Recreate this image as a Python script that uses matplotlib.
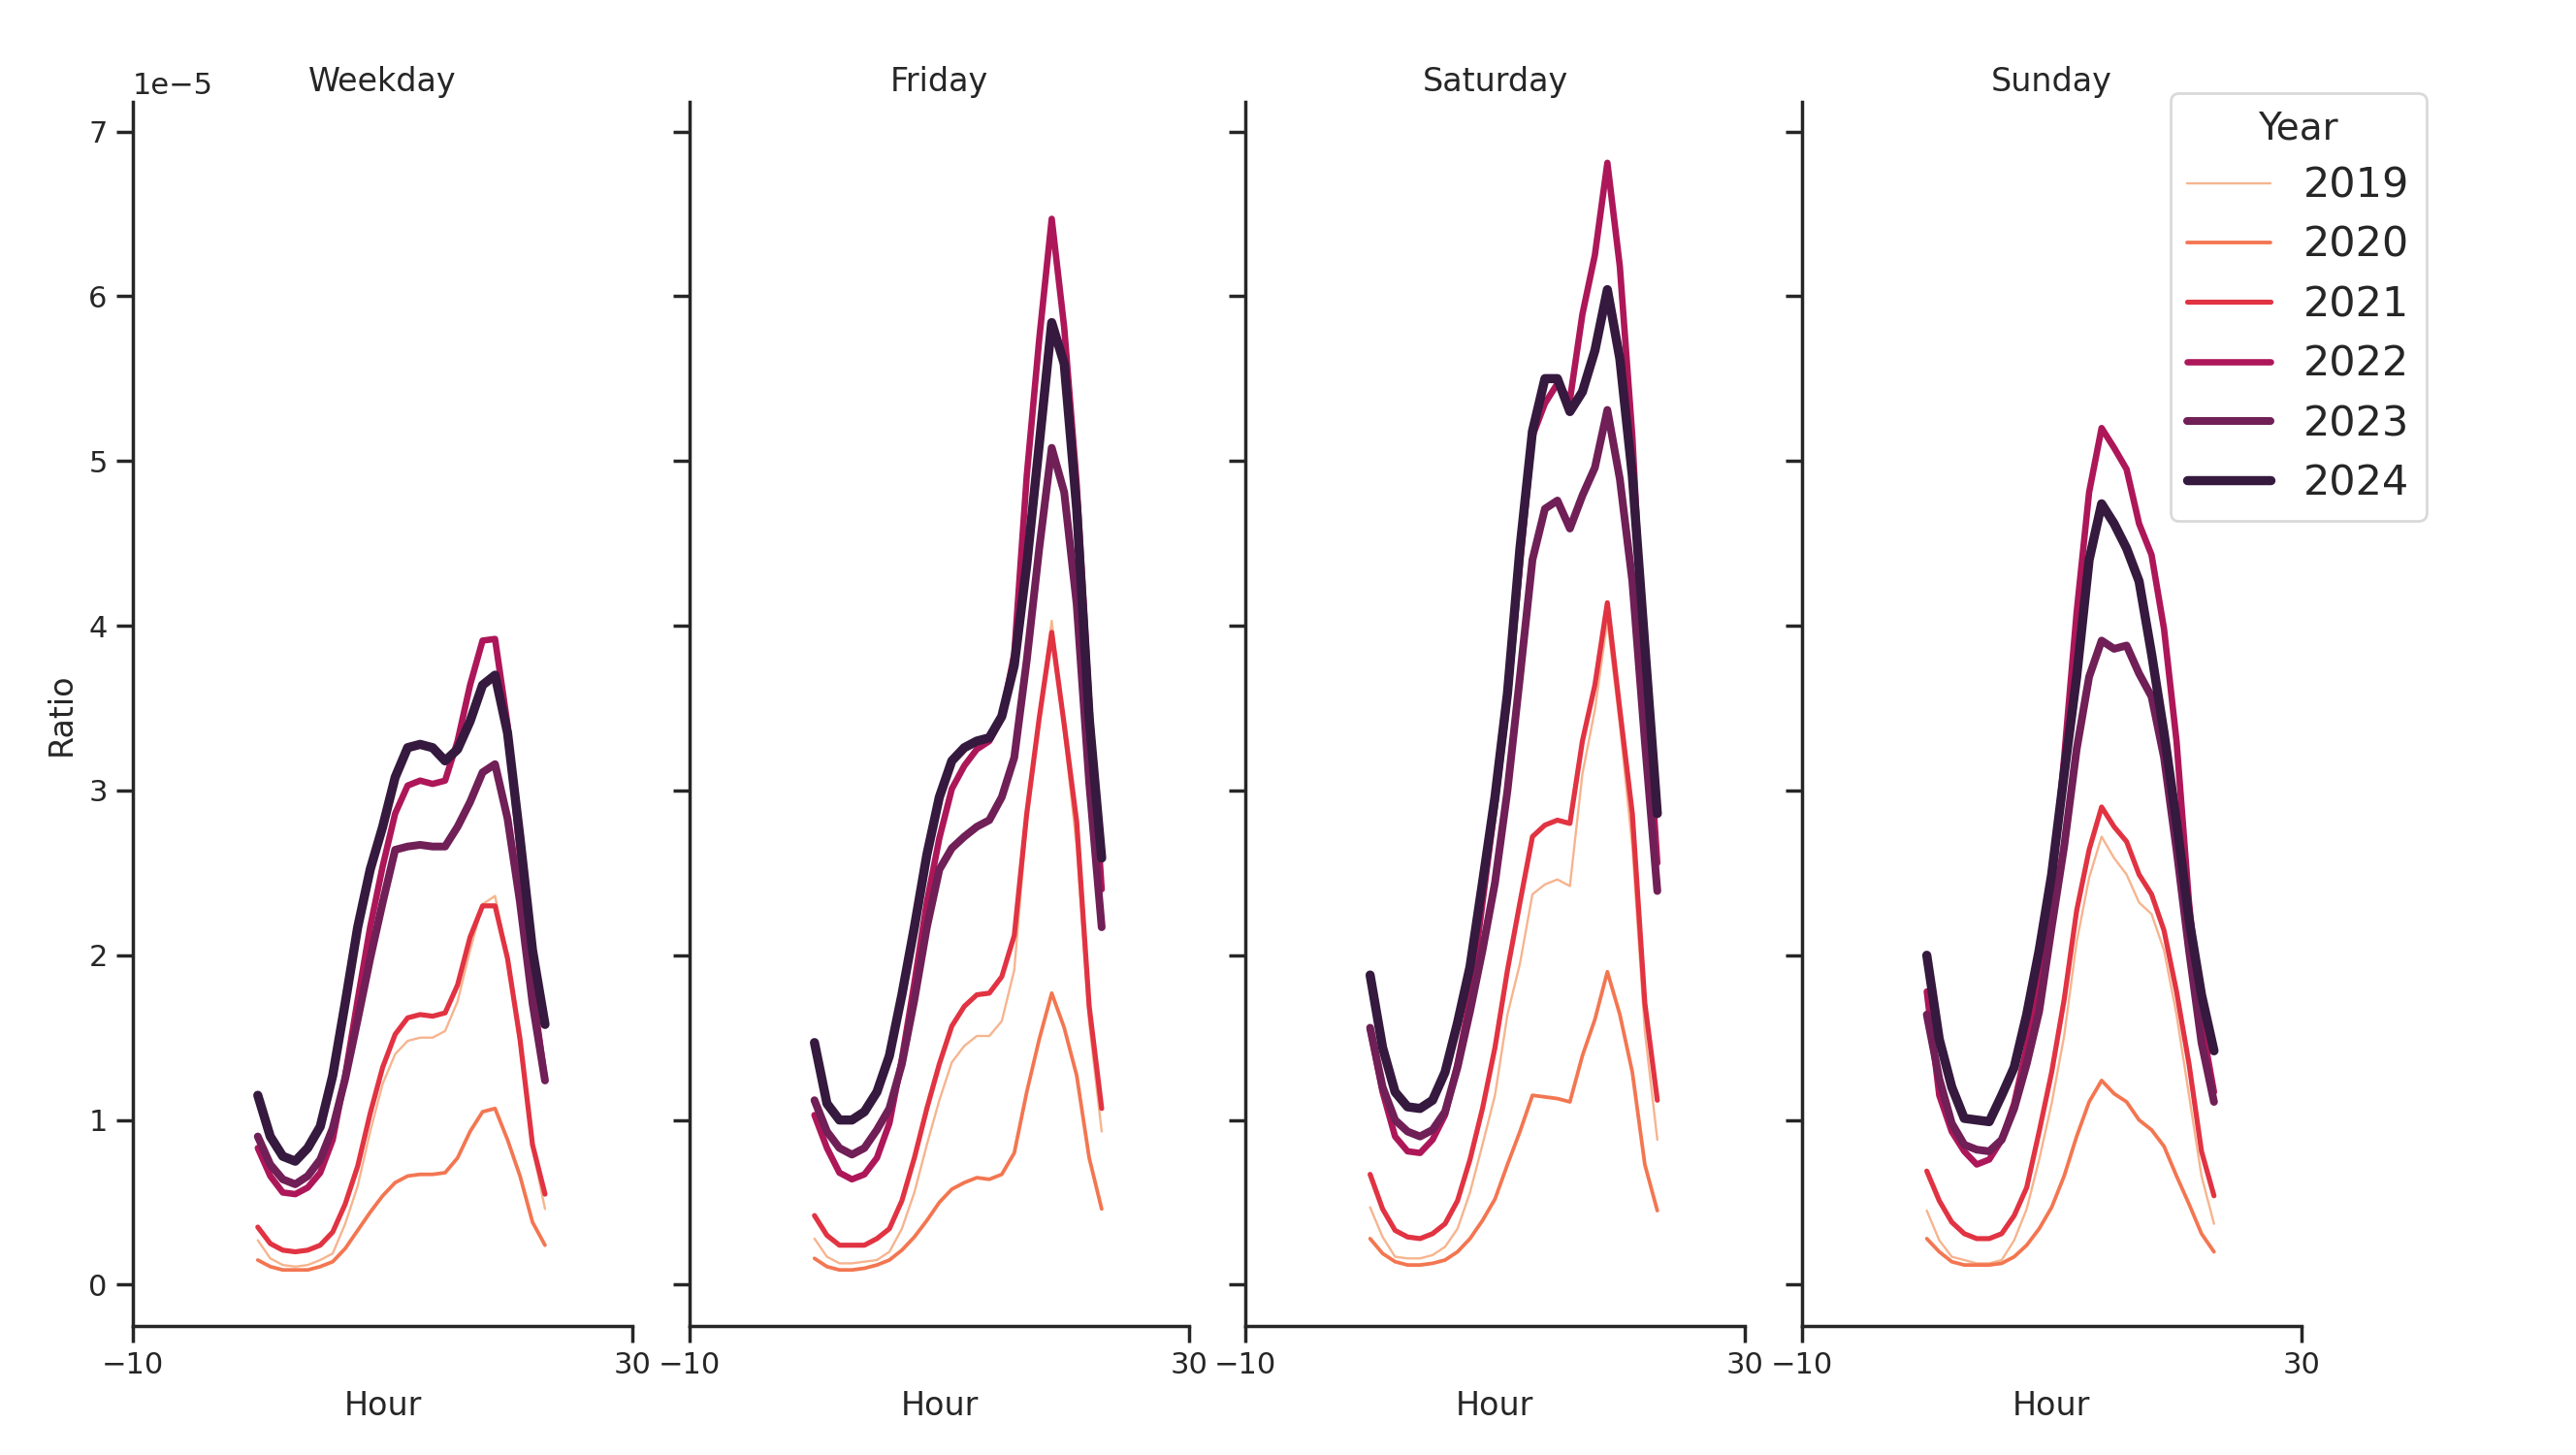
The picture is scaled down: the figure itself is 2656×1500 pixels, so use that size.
import matplotlib
matplotlib.use('Agg')
import matplotlib.pyplot as plt

hours = list(range(24))
years = [2019, 2020, 2021, 2022, 2023, 2024]
day_types = ['Weekday', 'Friday', 'Saturday', 'Sunday']

# ratio values (x 1e-5), one list per year and day type
weekday = {
    2019: [0.27, 0.16, 0.12, 0.11, 0.12, 0.15, 0.19, 0.37, 0.60, 0.93, 1.22, 1.40,
           1.48, 1.50, 1.50, 1.54, 1.72, 2.03, 2.31, 2.36, 1.98, 1.44, 0.83, 0.46],
    2020: [0.15, 0.11, 0.09, 0.09, 0.09, 0.11, 0.14, 0.22, 0.33, 0.44, 0.54, 0.62,
           0.66, 0.67, 0.67, 0.68, 0.77, 0.93, 1.05, 1.07, 0.88, 0.66, 0.38, 0.24],
    2021: [0.35, 0.25, 0.21, 0.20, 0.21, 0.24, 0.32, 0.49, 0.72, 1.04, 1.32, 1.52,
           1.62, 1.64, 1.63, 1.65, 1.82, 2.11, 2.30, 2.30, 1.98, 1.49, 0.85, 0.55],
    2022: [0.83, 0.66, 0.56, 0.55, 0.59, 0.68, 0.88, 1.27, 1.73, 2.17, 2.54, 2.86,
           3.03, 3.06, 3.04, 3.06, 3.30, 3.64, 3.91, 3.92, 3.40, 2.60, 1.80, 1.24],
    2023: [0.90, 0.73, 0.64, 0.61, 0.66, 0.76, 0.95, 1.25, 1.61, 1.98, 2.32, 2.64,
           2.66, 2.67, 2.66, 2.66, 2.78, 2.93, 3.11, 3.16, 2.83, 2.32, 1.71, 1.24],
    2024: [1.15, 0.90, 0.78, 0.75, 0.83, 0.96, 1.27, 1.71, 2.17, 2.52, 2.78, 3.08,
           3.26, 3.28, 3.26, 3.18, 3.25, 3.42, 3.64, 3.70, 3.35, 2.71, 2.03, 1.58],
}
friday = {
    2019: [0.28, 0.17, 0.13, 0.13, 0.14, 0.15, 0.20, 0.34, 0.56, 0.85, 1.12, 1.35,
           1.45, 1.51, 1.51, 1.60, 1.91, 2.81, 3.44, 4.03, 3.35, 2.66, 1.59, 0.93],
    2020: [0.16, 0.11, 0.09, 0.09, 0.10, 0.12, 0.15, 0.21, 0.29, 0.39, 0.50, 0.58,
           0.62, 0.65, 0.64, 0.67, 0.80, 1.17, 1.49, 1.77, 1.56, 1.27, 0.77, 0.46],
    2021: [0.42, 0.30, 0.24, 0.24, 0.24, 0.28, 0.34, 0.51, 0.77, 1.07, 1.34, 1.57,
           1.69, 1.76, 1.77, 1.87, 2.12, 2.86, 3.44, 3.96, 3.40, 2.81, 1.69, 1.07],
    2022: [1.03, 0.83, 0.68, 0.64, 0.67, 0.77, 0.98, 1.37, 1.83, 2.32, 2.71, 3.01,
           3.15, 3.25, 3.30, 3.44, 3.83, 4.91, 5.74, 6.47, 5.81, 4.86, 3.54, 2.40],
    2023: [1.12, 0.93, 0.83, 0.79, 0.83, 0.94, 1.07, 1.34, 1.73, 2.17, 2.52, 2.65,
           2.72, 2.78, 2.82, 2.96, 3.20, 3.79, 4.47, 5.08, 4.81, 4.13, 3.05, 2.17],
    2024: [1.47, 1.10, 1.00, 1.00, 1.05, 1.17, 1.39, 1.76, 2.17, 2.61, 2.96, 3.18,
           3.26, 3.30, 3.32, 3.45, 3.76, 4.37, 5.10, 5.84, 5.59, 4.71, 3.44, 2.59],
}
saturday = {
    2019: [0.47, 0.29, 0.17, 0.16, 0.16, 0.18, 0.23, 0.34, 0.56, 0.85, 1.15, 1.64,
           1.95, 2.37, 2.43, 2.46, 2.42, 3.10, 3.49, 4.03, 3.40, 2.66, 1.54, 0.88],
    2020: [0.28, 0.19, 0.14, 0.12, 0.12, 0.13, 0.15, 0.20, 0.28, 0.39, 0.52, 0.73,
           0.93, 1.15, 1.14, 1.13, 1.11, 1.39, 1.61, 1.90, 1.64, 1.29, 0.73, 0.45],
    2021: [0.67, 0.46, 0.33, 0.29, 0.28, 0.31, 0.37, 0.51, 0.76, 1.07, 1.44, 1.91,
           2.32, 2.72, 2.79, 2.82, 2.80, 3.30, 3.64, 4.14, 3.49, 2.86, 1.71, 1.12],
    2022: [1.55, 1.17, 0.90, 0.81, 0.80, 0.88, 1.03, 1.34, 1.73, 2.32, 2.91, 3.54,
           4.37, 5.15, 5.35, 5.47, 5.37, 5.89, 6.25, 6.81, 6.18, 5.15, 3.69, 2.56],
    2023: [1.56, 1.20, 1.00, 0.93, 0.90, 0.94, 1.05, 1.32, 1.66, 2.03, 2.44, 3.00,
           3.69, 4.40, 4.71, 4.76, 4.59, 4.79, 4.96, 5.31, 4.89, 4.27, 3.30, 2.39],
    2024: [1.88, 1.44, 1.17, 1.08, 1.07, 1.12, 1.29, 1.59, 1.93, 2.44, 2.96, 3.59,
           4.47, 5.18, 5.50, 5.50, 5.30, 5.42, 5.67, 6.04, 5.62, 4.91, 3.88, 2.86],
}
sunday = {
    2019: [0.45, 0.27, 0.17, 0.15, 0.13, 0.13, 0.15, 0.27, 0.46, 0.76, 1.10, 1.51,
           2.08, 2.47, 2.72, 2.59, 2.49, 2.32, 2.25, 2.03, 1.64, 1.15, 0.66, 0.37],
    2020: [0.28, 0.20, 0.14, 0.12, 0.12, 0.12, 0.13, 0.17, 0.24, 0.34, 0.47, 0.66,
           0.90, 1.11, 1.24, 1.16, 1.11, 1.00, 0.94, 0.84, 0.66, 0.49, 0.31, 0.20],
    2021: [0.69, 0.51, 0.38, 0.31, 0.28, 0.28, 0.31, 0.42, 0.59, 0.93, 1.29, 1.73,
           2.27, 2.64, 2.90, 2.78, 2.69, 2.49, 2.37, 2.15, 1.78, 1.34, 0.81, 0.54],
    2022: [1.78, 1.15, 0.93, 0.81, 0.73, 0.76, 0.88, 1.10, 1.44, 1.86, 2.39, 3.20,
           4.08, 4.81, 5.20, 5.08, 4.95, 4.62, 4.43, 3.98, 3.30, 2.32, 1.59, 1.17],
    2023: [1.64, 1.25, 0.98, 0.85, 0.82, 0.81, 0.88, 1.07, 1.34, 1.66, 2.17, 2.66,
           3.25, 3.69, 3.91, 3.86, 3.88, 3.71, 3.57, 3.20, 2.64, 2.03, 1.47, 1.11],
    2024: [2.00, 1.49, 1.20, 1.01, 1.00, 0.99, 1.15, 1.32, 1.64, 2.03, 2.49, 3.10,
           3.69, 4.40, 4.74, 4.62, 4.47, 4.27, 3.83, 3.35, 2.81, 2.22, 1.76, 1.42],
}
panels = [weekday, friday, saturday, sunday]

# rocket_r, 6 colours, and widths growing with the year
colors = ['#f6b48f', '#f37651', '#e13342', '#ad1759', '#701f57', '#35193e']
widths = [0.85, 1.36, 1.87, 2.38, 2.89, 3.4]

plt.rcParams['font.family'] = 'DejaVu Sans'
plt.rcParams['text.color'] = '#262626'
plt.rcParams['axes.labelcolor'] = '#262626'
plt.rcParams['xtick.color'] = '#262626'
plt.rcParams['ytick.color'] = '#262626'

fig = plt.figure(figsize=(13.28, 7.5), dpi=200)
lefts = [0.0516, 0.2677, 0.4834, 0.6995]
axes = []
for i, (name, data) in enumerate(zip(day_types, panels)):
    ax = fig.add_axes([lefts[i], 0.0887, 0.1939, 0.8413],
                      sharey=axes[0] if axes else None)
    axes.append(ax)
    for yr, c, lw in zip(years, colors, widths):
        ax.plot(hours, [v * 1e-5 for v in data[yr]], color=c, lw=lw,
                solid_capstyle='round', label=str(yr))
    ax.set_xlim(-10, 30)
    ax.set_xticks([-10, 30])
    ax.set_title(name, fontsize=12, pad=4)
    ax.set_xlabel('Hour', fontsize=12)
    for s in ['top', 'right']:
        ax.spines[s].set_visible(False)
    for s in ['left', 'bottom']:
        ax.spines[s].set_linewidth(1.25)
        ax.spines[s].set_color('#262626')
    ax.tick_params(width=1.25, length=6, labelsize=11)
    if i > 0:
        ax.tick_params(labelleft=False)
        ax.yaxis.offsetText.set_visible(False)

axes[0].set_ylim(-0.25e-5, 7.18e-5)
axes[0].set_yticks([i * 1e-5 for i in range(8)])
axes[0].set_ylabel('Ratio', fontsize=12)
axes[0].yaxis.offsetText.set_fontsize(11)

handles, labels = axes[0].get_legend_handles_labels()
leg = fig.legend(handles, labels, title='Year', loc='upper right',
                 bbox_to_anchor=(0.942, 0.936), borderaxespad=0,
                 fontsize=15.5, title_fontsize=14, labelspacing=0.45,
                 frameon=True)
leg.get_frame().set_edgecolor('#d0d0d0')

fig.savefig('out.png', dpi=200)
